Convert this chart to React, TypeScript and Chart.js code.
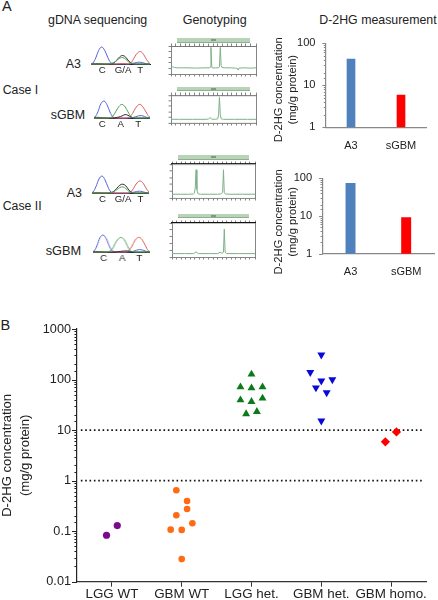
import React, { useEffect, useRef } from "react";
import { Chart, registerables } from "chart.js";

Chart.register(...registerables);

const FONT = "'Liberation Sans', Arial, sans-serif";
const INK = "#222222";

// ---------- Panel B: scatter values (x = group index + jitter) ----------
const groupLabels = ["LGG WT", "GBM WT", "LGG het.", "GBM het.", "GBM homo."];
const logTickLabels = ["0.01", "0.1", "1", "10", "100", "1000"];
const lggWtX = [-0.077, 0.077];
const lggWtY = [0.083, 0.129];
const gbmWtX = [0.923, 1.077, 1.077, 0.923, 1.153, 0.842, 1.0, 1.0];
const gbmWtY = [0.646, 0.396, 0.275, 0.206, 0.143, 0.107, 0.106, 0.028];
const lggHetX = [2, 1.842, 2, 2.158, 1.842, 2, 2.158, 1.923, 2.077];
const lggHetY = [127, 71, 68, 71, 39.4, 36.6, 42.6, 20.9, 23.2];
const gbmHetX = [3, 2.842, 3.158, 3, 2.923, 3.077, 3];
const gbmHetY = [308, 139, 100, 94, 69, 55, 15.2];
const gbmHomoX = [3.918, 4.077];
const gbmHomoY = [5.85, 9.2];
const cutoffs = [10, 1];
const cutoffSpan = [-0.445, 4.476];

// ---------- Panel A: bar values ----------
const barCategories = ["A3", "sGBM"];
const caseIBars = [42, 5.8];
const caseIIBars = [73, 9.1];
const barColors = ["#4F81BD", "#FF0000"];
const barTickLabels = ["1", "10", "100"];

// ---------- Panel A: sequencing traces, sampled every 3 scan units ----------
const scan = [0, 3, 6, 9, 12, 15, 18, 21, 24, 27, 30, 33, 36, 39, 42, 45, 48, 51, 54, 57, 60];
const c1Blue = [0, 5, 35, 80, 100, 80, 40, 8, 2, 1, 0, 0, 0, 0, 3, 6, 10, 10, 6, 1, 0];
const c1Green = [0, 0, 0, 0, 0, 0, 0, 3, 8, 20, 34, 38, 28, 12, 3, 0, 0, 0, 0, 0, 0];
const c1Black = [0, 1, 2, 2, 1, 0, 0, 2, 6, 22, 42, 50, 40, 18, 4, 1, 0, 0, 0, 0, 0];
const c1Red = [0, 0, 0, 0, 0, 0, 0, 0, 0, 0, 2, 3, 2, 1, 12, 42, 66, 73, 55, 25, 3];
const c2Blue = [0, 6, 38, 85, 100, 78, 35, 6, 1, 0, 0, 0, 0, 2, 5, 10, 14, 12, 5, 1, 0];
const c2Green = [0, 0, 0, 0, 0, 0, 2, 12, 40, 68, 80, 66, 36, 8, 1, 0, 0, 0, 0, 0, 0];
const c2Black = [2, 3, 4, 2, 1, 0, 0, 0, 2, 6, 12, 20, 16, 6, 1, 0, 0, 0, 0, 0, 0];
const c2Red = [0, 0, 0, 0, 0, 0, 0, 0, 0, 0, 0, 0, 2, 14, 42, 70, 80, 64, 36, 8, 0];
const c3Blue = [0, 6, 38, 82, 100, 78, 36, 6, 1, 0, 0, 0, 0, 0, 3, 6, 10, 10, 6, 1, 0];
const c3Green = [0, 0, 0, 0, 0, 0, 0, 2, 8, 20, 32, 36, 26, 10, 2, 0, 0, 0, 0, 0, 0];
const c3Black = [0, 0, 1, 1, 0, 0, 0, 3, 10, 28, 46, 52, 42, 18, 4, 0, 0, 0, 0, 0, 0];
const c3Red = [0, 0, 0, 0, 0, 0, 0, 0, 0, 0, 0, 0, 0, 1, 12, 40, 64, 70, 52, 22, 3];
const c4Blue = [0, 6, 38, 85, 100, 80, 38, 8, 1, 0, 0, 0, 0, 1, 4, 10, 14, 12, 6, 1, 0];
const c4Green = [0, 0, 0, 0, 0, 0, 3, 16, 50, 76, 86, 72, 38, 8, 1, 0, 0, 0, 0, 0, 0];
const c4Black = [1, 2, 3, 2, 1, 0, 0, 0, 0, 2, 4, 6, 6, 3, 1, 0, 0, 0, 0, 0, 0];
const c4Red = [0, 0, 0, 0, 0, 0, 0, 0, 0, 0, 0, 0, 2, 18, 50, 78, 86, 70, 38, 8, 0];
const basesVariant = ["C", "G/A", "T"];
const basesPlain = ["C", "A", "T"];
const c1BaseAt = [12.6, 33.3, 50.6];
const c2BaseAt = [10.3, 28.7, 46.3];
const c3BaseAt = [12.6, 33.3, 50.6];
const c4BaseAt = [12.7, 31, 48];

// ---------- Panel A: genotyping traces ----------
const g1X = [0, 2, 4, 8, 12, 20, 30, 40, 45, 46, 47, 48, 49, 52, 56, 57, 58, 59, 60, 64, 70, 76, 78, 79, 80, 86, 94, 100];
const g1Y = [20, 26, 23, 22, 22, 22, 21, 22, 22, 24, 95, 26, 21, 22, 22, 26, 95, 30, 23, 22, 22, 21, 20, 14, 21, 22, 21, 22];
const g2X = [0, 10, 25, 40, 44, 46, 48, 52, 55, 56, 57, 58, 59, 62, 75, 90, 100];
const g2Y = [13, 13, 13, 13, 14, 19, 14, 13, 15, 30, 93, 30, 15, 13, 13, 13, 13];
const g3X = [0, 10, 20, 26, 27, 28, 29, 30, 31, 34, 45, 55, 59, 61, 62, 63, 64, 70, 85, 100];
const g3Y = [11, 11, 11, 12, 14, 30, 83, 25, 13, 11, 11, 11, 12, 16, 83, 16, 12, 11, 11, 11];
const g4X = [0, 15, 26, 29, 32, 45, 55, 58, 60, 62, 63, 64, 66, 80, 100];
const g4Y = [10, 10, 10, 15, 10, 10, 10, 14, 11, 14, 82, 14, 10, 10, 10];

const zip = (xs: number[], ys: number[]) => xs.map((x, i) => ({ x, y: ys[i] }));
const isDecade = (v: number) => Math.abs(Math.log10(v) - Math.round(Math.log10(v))) < 1e-6;

// Draws major and minor log tick marks from the scale's own ticks.
const logTicks = {
  id: "logTicks",
  afterDraw(chart: any, _a: any, o: any) {
    const s = chart.scales.y;
    const { ctx } = chart;
    ctx.save();
    ctx.strokeStyle = o.color;
    ctx.lineWidth = o.width;
    s.ticks.forEach((t: any) => {
      const y = Math.round(s.getPixelForValue(t.value)) + 0.5;
      const len = isDecade(t.value) ? o.major : o.minor;
      ctx.beginPath();
      ctx.moveTo(s.right, y);
      ctx.lineTo(s.right - len, y);
      ctx.stroke();
    });
    ctx.restore();
  },
};

function ChartCanvas({ box, config }: { box: any; config: any }) {
  const ref = useRef<HTMLCanvasElement>(null);
  useEffect(() => {
    const chart = new Chart(ref.current as HTMLCanvasElement, config);
    return () => chart.destroy();
  }, []);
  return (
    <canvas
      ref={ref}
      width={box.width}
      height={box.height}
      style={{ position: "absolute", left: box.left, top: box.top, width: box.width, height: box.height }}
    />
  );
}

const baseOptions = {
  responsive: false,
  animation: false,
  events: [],
  plugins: { legend: { display: false }, tooltip: { enabled: false }, title: { display: false } },
};

const marker = (label: string, xs: number[], ys: number[], color: string, pointStyle: string, radius: number, rotation = 0) => ({
  label,
  data: zip(xs, ys),
  backgroundColor: color,
  borderColor: color,
  pointStyle,
  pointRadius: radius,
  pointBorderWidth: 0,
  rotation,
  clip: false,
});

function scatterConfig() {
  const cut = cutoffs.map((c) => ({
    label: `cutoff ${c}`,
    data: cutoffSpan.map((x) => ({ x, y: c })),
    showLine: true,
    pointRadius: 0,
    borderColor: "#111111",
    borderWidth: 1.6,
    borderDash: [1.6, 2.75],
  }));
  return {
    type: "scatter",
    data: {
      datasets: [
        marker("LGG WT", lggWtX, lggWtY, "#7A0C8C", "circle", 3.6),
        marker("GBM WT", gbmWtX, gbmWtY, "#FF6A13", "circle", 3.3),
        marker("LGG het.", lggHetX, lggHetY, "#0B7A1A", "triangle", 4.6),
        marker("GBM het.", gbmHetX, gbmHetY, "#0808D8", "triangle", 4.6, 180),
        marker("GBM homo.", gbmHomoX, gbmHomoY, "#FF0000", "rectRot", 4.6),
        ...cut,
      ],
    },
    options: {
      ...baseOptions,
      layout: { padding: { top: 9, right: 12, left: 0, bottom: 0 } },
      plugins: { ...baseOptions.plugins, logTicks: { major: 5, minor: 2.6, color: "#222222", width: 1 } },
      scales: {
        x: {
          type: "linear",
          min: -0.5,
          max: 4.5,
          afterBuildTicks: (a: any) => {
            a.ticks = groupLabels.map((_, value) => ({ value }));
          },
          afterFit: (a: any) => {
            a.height = 18.3;
          },
          grid: { drawOnChartArea: false, tickLength: 5, tickColor: "#333333", tickWidth: 1 },
          border: { color: "#333333", width: 1.2 },
          ticks: {
            autoSkip: false,
            maxRotation: 0,
            padding: 0,
            color: INK,
            font: { family: FONT, size: 13.4 },
            callback: (v: number) => groupLabels[v],
          },
        },
        y: {
          type: "logarithmic",
          min: 0.01,
          max: 1000,
          afterFit: (a: any) => {
            a.width = 77;
          },
          grid: { drawOnChartArea: false, tickLength: 5, tickColor: "rgba(0,0,0,0)" },
          border: { color: "#222222", width: 1.2 },
          title: {
            display: true,
            text: ["D-2HG concentration", "(mg/g protein)"],
            color: INK,
            padding: { top: -1.5, bottom: 0 },
            font: { family: FONT, size: 13.1, lineHeight: 1.35 },
          },
          ticks: {
            autoSkip: false,
            padding: 1,
            color: INK,
            font: { family: FONT, size: 12.7 },
            callback: (v: number) => (isDecade(v) ? logTickLabels[Math.round(Math.log10(v)) + 2] : ""),
          },
        },
      },
    },
    plugins: [logTicks],
  };
}

function barConfig(values: number[], thickness: number, yWidth: number, xHeight: number, top: number, right: number, titleShift: number) {
  return {
    type: "bar",
    data: {
      labels: barCategories,
      datasets: [{ label: "D-2HG", data: values, backgroundColor: barColors, barThickness: thickness }],
    },
    options: {
      ...baseOptions,
      layout: { padding: { top, right, left: 0, bottom: 0 } },
      plugins: { ...baseOptions.plugins, logTicks: { major: 3.6, minor: 2.2, color: "#888888", width: 1 } },
      scales: {
        x: {
          afterFit: (a: any) => {
            a.height = xHeight;
          },
          grid: { drawOnChartArea: false, drawTicks: false },
          border: { color: "#888888", width: 1.2 },
          ticks: { padding: 12, maxRotation: 0, color: INK, font: { family: FONT, size: 11 } },
        },
        y: {
          type: "logarithmic",
          min: 1,
          max: 100,
          afterFit: (a: any) => {
            a.width = yWidth;
            // the title sits a little below the centre of the axis in the reference
            if (!a.__shifted) {
              const draw = a.drawTitle;
              a.drawTitle = function () {
                a.ctx.save();
                a.ctx.translate(0, titleShift);
                draw.call(a);
                a.ctx.restore();
              };
              a.__shifted = true;
            }
          },
          grid: { drawOnChartArea: false, tickLength: 4, tickColor: "rgba(0,0,0,0)" },
          border: { color: "#888888", width: 1.2 },
          title: {
            display: true,
            text: ["D-2HG concentration", "(mg/g protein)"],
            color: INK,
            padding: { top: 2.6, bottom: 0 },
            font: { family: FONT, size: 11.2, lineHeight: 1.2 },
          },
          ticks: {
            autoSkip: false,
            padding: 6.5,
            color: INK,
            font: { family: FONT, size: 11.1 },
            callback: (v: number) => (isDecade(v) ? barTickLabels[Math.round(Math.log10(v))] : ""),
          },
        },
      },
    },
    plugins: [logTicks],
  };
}

const channel = (label: string, ys: number[], color: string) => ({
  label,
  data: zip(scan, ys),
  borderColor: color,
  borderWidth: 1,
  pointRadius: 0,
  tension: 0.4,
  clip: false,
});

function chromConfig(ch: number[][], xMin: number, xMax: number, at: number[], bases: string[]) {
  return {
    type: "line",
    data: {
      datasets: [
        channel("A", ch[1], "#4BA35A"),
        channel("G", ch[2], "#2E2E2E"),
        channel("T", ch[3], "#DE5A55"),
        channel("C", ch[0], "#5560D8"),
      ],
    },
    options: {
      ...baseOptions,
      layout: { padding: { top: 3, right: 0, left: 0, bottom: 0 } },
      scales: {
        x: {
          type: "linear",
          min: xMin,
          max: xMax,
          afterBuildTicks: (a: any) => {
            a.ticks = at.map((value) => ({ value }));
          },
          afterFit: (a: any) => {
            a.height = 14;
          },
          grid: { drawOnChartArea: false, drawTicks: false },
          border: { color: "#222222", width: 1 },
          ticks: {
            autoSkip: false,
            maxRotation: 0,
            padding: 1,
            color: INK,
            font: { family: FONT, size: 9.7 },
            callback: (_: number, i: number) => bases[i],
          },
        },
        y: { display: false, min: 0, max: 100 },
      },
    },
  };
}

function genoConfig(xs: number[], ys: number[], topColor: string, topWidth: number) {
  const thin = "#777777";
  const hiddenAxis = (extra: any) => ({
    type: "linear",
    min: 0,
    max: 100,
    afterFit: (a: any) => {
      if (a.isHorizontal()) a.height = 4;
      else a.width = 4;
    },
    ...extra,
  });
  const tickedGrid = { drawOnChartArea: false, tickLength: 2.5, tickColor: "#666666", tickWidth: 0.8 };
  return {
    type: "line",
    data: {
      datasets: [
        { label: "trace", data: zip(xs, ys), borderColor: "#7DB088", borderWidth: 1, pointRadius: 0, tension: 0 },
      ],
    },
    options: {
      ...baseOptions,
      scales: {
        x: hiddenAxis({
          position: "bottom",
          grid: tickedGrid,
          border: { color: thin, width: 0.9 },
          ticks: { display: false, stepSize: 5.5, autoSkip: false },
        }),
        x2: hiddenAxis({
          position: "top",
          grid: tickedGrid,
          border: { color: topColor, width: topWidth },
          ticks: { display: false, stepSize: 5.5, autoSkip: false },
        }),
        y: hiddenAxis({
          position: "left",
          grid: tickedGrid,
          border: { color: thin, width: 0.9 },
          ticks: { display: false, stepSize: 20 },
        }),
        y2: hiddenAxis({
          position: "right",
          grid: { drawOnChartArea: false, drawTicks: false },
          border: { color: thin, width: 0.9 },
          ticks: { display: false },
        }),
      },
    },
  };
}

const labels = [
  { text: "A", x: 2, y: 6, size: 14.5 },
  { text: "B", x: 0.5, y: 325, size: 14.5 },
  { text: "gDNA sequencing", x: 48, y: 19.5, size: 12.4 },
  { text: "Genotyping", x: 182.7, y: 19.5, size: 12.5 },
  { text: "D-2HG measurement", x: 319.3, y: 19.5, size: 12.35 },
  { text: "Case I", x: 2.7, y: 89.5, size: 12.3 },
  { text: "Case II", x: 2.7, y: 206, size: 12.3 },
  { text: "A3", x: 65.7, y: 64, size: 12.4 },
  { text: "sGBM", x: 50.7, y: 114.5, size: 12.4 },
  { text: "A3", x: 66.7, y: 192.5, size: 12.4 },
  { text: "sGBM", x: 45.7, y: 250, size: 12.8 },
];

const headers = [
  { left: 177.3, top: 38.3, width: 72.7, height: 4.4 },
  { left: 177.3, top: 87.3, width: 72.7, height: 3.8 },
  { left: 178, top: 154.7, width: 71, height: 5 },
  { left: 178, top: 214, width: 71, height: 4.3 },
];

const plotBox = (x: number, top: number, right: number, bottom: number) => ({
  left: x - 4,
  top: top - 4,
  width: right - x + 8,
  height: bottom - top + 8,
});

const chroms = [
  { box: { left: 91, top: 43.5, width: 60, height: 34 }, ch: [c1Blue, c1Green, c1Black, c1Red], min: 1.3, max: 61.3, at: c1BaseAt, bases: basesVariant },
  { box: { left: 94, top: 97.7, width: 56, height: 34 }, ch: [c2Blue, c2Green, c2Black, c2Red], min: 2, max: 58, at: c2BaseAt, bases: basesPlain },
  { box: { left: 91.7, top: 172.7, width: 57.3, height: 34 }, ch: [c3Blue, c3Green, c3Black, c3Red], min: 2, max: 59.3, at: c3BaseAt, bases: basesVariant },
  { box: { left: 93.3, top: 231.7, width: 56.7, height: 34 }, ch: [c4Blue, c4Green, c4Black, c4Red], min: 2, max: 58.7, at: c4BaseAt, bases: basesPlain },
];

const genos = [
  { box: plotBox(170.7, 46, 256, 74), xs: g1X, ys: g1Y, topColor: "#666666", topWidth: 0.9 },
  { box: plotBox(170.7, 95, 256, 122.7), xs: g2X, ys: g2Y, topColor: "#666666", topWidth: 0.9 },
  { box: plotBox(171.7, 164.3, 255, 197.7), xs: g3X, ys: g3Y, topColor: "#111111", topWidth: 1.3 },
  { box: plotBox(171.7, 223.3, 255, 257.3), xs: g4X, ys: g4Y, topColor: "#111111", topWidth: 1.3 },
];

export default function App() {
  return (
    <div style={{ position: "absolute", left: 0, top: 0, width: 438, height: 600, overflow: "hidden", background: "#fff", fontFamily: FONT }}>
      {labels.map((l, i) => (
        <div
          key={i}
          style={{ position: "absolute", left: l.x, top: l.y, transform: "translateY(-50%)", fontSize: l.size, color: INK, whiteSpace: "nowrap" }}
        >
          {l.text}
        </div>
      ))}
      {headers.map((h, i) => (
        <div
          key={i}
          style={{ position: "absolute", left: h.left, top: h.top, width: h.width, height: h.height, background: "#B9D3B8", boxSizing: "border-box", borderBottom: "1px solid #8FB08F" }}
        >
          <div style={{ position: "absolute", left: h.width / 2 - 2.5, top: 1, width: 5, height: 2, background: "#7E9A80" }} />
        </div>
      ))}
      {chroms.map((c, i) => (
        <ChartCanvas key={i} box={c.box} config={chromConfig(c.ch, c.min, c.max, c.at, c.bases)} />
      ))}
      {genos.map((g, i) => (
        <ChartCanvas key={i} box={g.box} config={genoConfig(g.xs, g.ys, g.topColor, g.topWidth)} />
      ))}
      <ChartCanvas box={{ left: 270, top: 30, width: 168, height: 125 }} config={barConfig(caseIBars, 8, 56, 27.7, 10, 12, 4.5)} />
      <ChartCanvas box={{ left: 270, top: 165, width: 168, height: 115 }} config={barConfig(caseIIBars, 9.3, 52.7, 26.3, 10, 4, 6)} />
      <ChartCanvas box={{ left: 0, top: 320, width: 438, height: 280 }} config={scatterConfig()} />
    </div>
  );
}
